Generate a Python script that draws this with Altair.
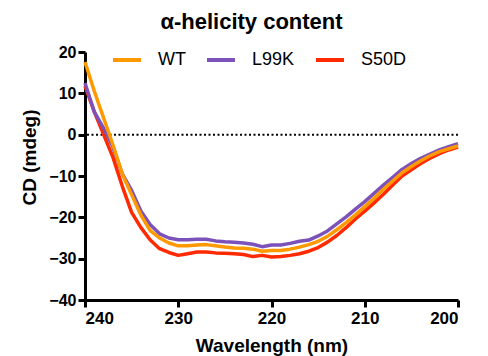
import altair as alt
import pandas as pd

wavelength = list(range(240, 199, -1))

wt = [17.6, 10.5, 4.0, -2.5, -9.5, -14.5, -19.5, -23.2, -25.0, -26.2, -26.9,
      -26.9, -26.7, -26.6, -26.9, -27.2, -27.4, -27.5, -27.7, -28.2, -28.0,
      -28.0, -27.7, -27.2, -26.6, -25.8, -24.6, -23.0, -21.3, -19.4, -17.4,
      -15.4, -13.2, -11.2, -9.2, -7.7, -6.3, -5.1, -4.1, -3.4, -2.7]

l99k = [12.5, 5.5, 1.5, -3.0, -9.5, -13.5, -18.5, -21.8, -24.0, -25.0, -25.4,
        -25.4, -25.3, -25.3, -25.7, -25.9, -26.0, -26.2, -26.5, -27.1, -26.7,
        -26.7, -26.3, -25.8, -25.5, -24.5, -23.3, -21.6, -19.9, -18.0, -16.2,
        -14.2, -12.2, -10.3, -8.4, -7.0, -5.7, -4.7, -3.7, -2.9, -2.2]

s50d = [11.8, 5.5, 0.0, -5.5, -12.5, -18.8, -22.5, -25.5, -27.6, -28.5, -29.2,
        -28.8, -28.4, -28.4, -28.6, -28.7, -28.8, -29.0, -29.5, -29.2, -29.6,
        -29.5, -29.2, -28.8, -28.2, -27.3, -26.0, -24.4, -22.5, -20.4, -18.5,
        -16.5, -14.4, -12.2, -10.0, -8.5, -7.0, -5.7, -4.6, -3.7, -3.0]

series_names = ["WT", "L99K", "S50D"]
series_colors = ["#FF9900", "#7B52B9", "#FF2A00"]
y_ticks = [-40, -30, -20, -10, 0, 10, 20]
x_ticks = [240, 230, 220, 210, 200]

rows = []
for name, vals in [("S50D", s50d), ("L99K", l99k), ("WT", wt)]:
    for w, v in zip(wavelength, vals):
        rows.append({"Wavelength": w, "CD": v, "Series": name})
df = pd.DataFrame(rows)

FONT = "Liberation Sans"

xscale = alt.Scale(domain=[200, 240], reverse=True, nice=False, zero=False)
yscale = alt.Scale(domain=[-40, 20], nice=False)

lines = alt.Chart(df).mark_line(strokeWidth=3.5, strokeCap="butt", strokeJoin="round").encode(
    x=alt.X("Wavelength:Q", scale=xscale,
            axis=alt.Axis(values=x_ticks, title="Wavelength (nm)", grid=False,
                          domainWidth=3, domainColor="black", tickWidth=3,
                          tickColor="black", tickSize=7, labelFont=FONT,
                          labelFontSize=17, labelFontWeight="bold",
                          labelColor="black", labelPadding=3,
                          titleFont=FONT, titleFontSize=19, titleFontWeight="bold",
                          titleColor="black", titlePadding=10)),
    y=alt.Y("CD:Q", scale=yscale,
            axis=alt.Axis(values=y_ticks, title="CD (mdeg)", grid=False,
                          domainWidth=3, domainColor="black", tickWidth=3,
                          tickColor="black", tickSize=7, labelFont=FONT,
                          labelFontSize=16, labelFontWeight="bold",
                          labelColor="black", labelPadding=2,
                          titleFont=FONT, titleFontSize=19, titleFontWeight="bold",
                          titleColor="black", titleAngle=270,
                          titleX=-56, titleY=105, titleAlign="center",
                          titleBaseline="middle")),
    color=alt.Color("Series:N",
                    scale=alt.Scale(domain=series_names, range=series_colors),
                    legend=alt.Legend(title=None, orient="none", direction="horizontal",
                                      legendX=26, legendY=-8,
                                      symbolType="stroke", symbolSize=784,
                                      symbolStrokeWidth=4, labelFont=FONT,
                                      labelFontSize=18, labelColor="black",
                                      labelOffset=15, columnPadding=13,
                                      padding=0)),
    order=alt.Order("Wavelength:Q", sort="descending"),
)

zero_df = pd.DataFrame({"y": [0]})
zero_line = alt.Chart(zero_df).mark_rule(color="black", strokeWidth=2,
                                        strokeDash=[2, 2.5]).encode(
    y=alt.Y("y:Q", scale=yscale)
)

chart = alt.layer(zero_line, lines).properties(
    width=373,
    height=248,
    padding={"left": 77, "top": 44, "right": 20, "bottom": 56},
    autosize=alt.AutoSizeParams(type="none"),
    title=alt.TitleParams("α-helicity content", font=FONT, fontSize=22,
                          fontWeight="bold", color="black", anchor="middle",
                          frame="group", dx=-20, offset=10),
).configure_view(stroke=None)

chart.save("out.html", embed_options={"renderer": "svg", "actions": False})
